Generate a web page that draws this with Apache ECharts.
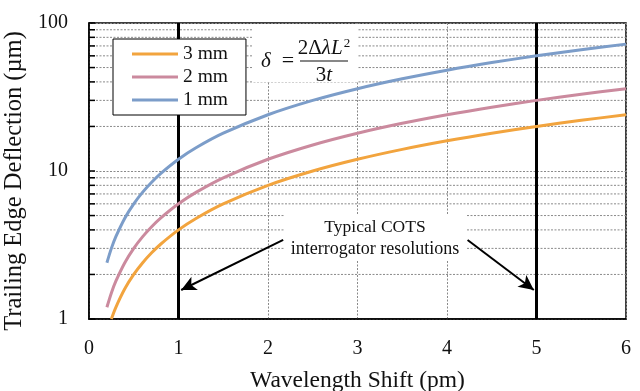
<!DOCTYPE html>
<html><head><meta charset="utf-8">
<script src="https://cdn.jsdelivr.net/npm/echarts@6/dist/echarts.min.js"></script>
<style>html,body{margin:0;padding:0;background:#fff}#c{width:640px;height:391px}</style>
</head><body><div id="c"></div>
<script>
// ---- data ----
const seriesNames = ['3 mm', '2 mm', '1 mm'];
const shift1mm = [0.2, 0.25, 0.3, 0.4, 0.5, 0.6, 0.7, 0.8, 1, 1.2, 1.5, 2, 2.5, 3, 3.5, 4, 4.5, 5, 5.5, 6];
const defl1mm  = [2.4, 3.0, 3.6, 4.8, 6.0, 7.2, 8.4, 9.6, 12, 14.4, 18, 24, 30, 36, 42, 48, 54, 60, 66, 72];
const shift2mm = [0.2, 0.25, 0.3, 0.4, 0.5, 0.6, 0.7, 0.8, 1, 1.2, 1.5, 2, 2.5, 3, 3.5, 4, 4.5, 5, 5.5, 6];
const defl2mm  = [1.2, 1.5, 1.8, 2.4, 3.0, 3.6, 4.2, 4.8, 6, 7.2, 9, 12, 15, 18, 21, 24, 27, 30, 33, 36];
const shift3mm = [0.25, 0.3, 0.4, 0.5, 0.6, 0.7, 0.8, 1, 1.2, 1.5, 2, 2.5, 3, 3.5, 4, 4.5, 5, 5.5, 6];
const defl3mm  = [1.0, 1.2, 1.6, 2.0, 2.4, 2.8, 3.2, 4, 4.8, 6, 8, 10, 12, 14, 16, 18, 20, 22, 24];
const xMin = 0, xMax = 6, xInterval = 1;
const yMin = 1, yMax = 100;
const minorYTicks = [2, 3, 4, 5, 6, 7, 8, 9, 20, 30, 40, 50, 60, 70, 80, 90];
const resolutionMarks = [1, 5];
// arrows: [from, to] in data coordinates
const arrowLeft  = [[2.17, 3.42], [1.03, 1.57]];
const arrowRight = [[4.23, 3.42], [4.97, 1.57]];

const colors = { '3 mm': '#F2A43E', '2 mm': '#CB8A9E', '1 mm': '#7C9DC9' };
const FONT = 'Liberation Serif';

const zip = (xs, ys) => xs.map((x, i) => [x, ys[i]]);
const dataMap = {
  '3 mm': zip(shift3mm, defl3mm),
  '2 mm': zip(shift2mm, defl2mm),
  '1 mm': zip(shift1mm, defl1mm)
};

const chart = echarts.init(document.getElementById('c'), null, { renderer: 'canvas' });

const lineSeries = seriesNames.map(n => ({
  name: n, type: 'line', data: dataMap[n], showSymbol: false, symbol: 'none',
  smooth: 0.3, z: 5,
  lineStyle: { color: colors[n], width: 3 }, itemStyle: { color: colors[n] }
}));

const option = {
  animation: false,
  backgroundColor: '#fff',
  grid: { left: 89, right: 14, top: 23, bottom: 72, show: true, borderColor: '#000', borderWidth: 1.5, backgroundColor: 'transparent', containLabel: false, outerBoundsMode: 'none' },
  legend: {
    data: seriesNames, orient: 'vertical', left: 113, top: 39,
    backgroundColor: '#fff', borderColor: '#000', borderWidth: 1,
    padding: [5, 18, 5, 19], itemGap: 3, itemWidth: 46, itemHeight: 3, icon: 'rect',
    textStyle: { fontFamily: FONT, fontSize: 19.5, color: '#111' }, z: 10
  },
  xAxis: {
    type: 'value', min: xMin, max: xMax, interval: xInterval,
    name: 'Wavelength Shift (pm)', nameLocation: 'middle', nameGap: 50,
    nameTextStyle: { fontFamily: FONT, fontSize: 23.5, color: '#111' },
    axisLine: { lineStyle: { color: '#000', width: 1.5 } },
    axisTick: { show: false },
    axisLabel: { fontFamily: FONT, fontSize: 20, color: '#111', margin: 20 },
    splitLine: { show: true, lineStyle: { color: '#8a8a8a', type: [2, 1.5], width: 1 } }
  },
  yAxis: {
    type: 'log', logBase: 10, min: yMin, max: yMax,
    name: 'Trailing Edge Deflection (µm)', nameLocation: 'middle', nameGap: 51,
    nameTextStyle: { fontFamily: FONT, fontSize: 24.5, color: '#111', padding: [0, 20, 0, 0] },
    axisLine: { lineStyle: { color: '#000', width: 1.5 } },
    axisTick: { show: true, inside: true, length: 6, lineStyle: { color: '#000', width: 1.5 } },
    axisLabel: { fontFamily: FONT, fontSize: 20, color: '#111', margin: 21 },
    splitLine: { show: true, lineStyle: { color: '#8a8a8a', type: [2, 1.5], width: 1 } }
  },
  series: [
    {
      name: 'minor', type: 'custom', z: 1, silent: true,
      data: minorYTicks.map(v => [xMin, v]),
      encode: { x: 0, y: 1 },
      renderItem: function (params, api) {
        const v = api.value(1);
        const p0 = api.coord([xMin, v]);
        const p1 = api.coord([xMax, v]);
        return { type: 'group', children: [
          { type: 'line', shape: { x1: p0[0], y1: p0[1], x2: p1[0], y2: p1[1] }, style: { stroke: '#8a8a8a', lineWidth: 1, lineDash: [2, 1.5] } },
          { type: 'line', shape: { x1: p0[0], y1: p0[1], x2: p0[0] + 6, y2: p0[1] }, style: { stroke: '#000', lineWidth: 1.5 } }
        ]};
      }
    },
    ...lineSeries,
    {
      name: 'marks', type: 'line', data: [], z: 4,
      markLine: {
        silent: true, animation: false, symbol: ['none', 'none'],
        label: { show: false },
        lineStyle: { color: '#000', width: 3, type: 'solid' },
        data: resolutionMarks.map(v => ({ xAxis: v }))
      }
    },
    {
      name: 'arrows', type: 'line', data: [], z: 12,
      markLine: {
        silent: true, animation: false, symbol: ['none', 'arrow'], symbolSize: [11, 15],
        label: { show: false },
        lineStyle: { color: '#000', width: 2, type: 'solid' },
        data: [
          [{ coord: arrowLeft[0] }, { coord: arrowLeft[1] }],
          [{ coord: arrowRight[0] }, { coord: arrowRight[1] }]
        ]
      }
    }
  ],
  graphic: [
    { type: 'rect', z: 20, shape: { x: 284, y: 214, width: 183, height: 47 }, style: { fill: '#fff' } },
    { type: 'text', z: 21, x: 375, y: 227, style: { text: 'Typical COTS', fontFamily: FONT, fontSize: 17.5, fill: '#111', align: 'center', verticalAlign: 'middle' } },
    { type: 'text', z: 21, x: 375, y: 249, style: { text: 'interrogator resolutions', fontFamily: FONT, fontSize: 18, fill: '#111', align: 'center', verticalAlign: 'middle' } },
    { type: 'rect', z: 20, shape: { x: 252, y: 24, width: 106, height: 58 }, style: { fill: '#fff' } },
    { type: 'text', z: 21, x: 266, y: 61, style: { text: 'δ', fontFamily: FONT, fontStyle: 'italic', fontSize: 21, fill: '#111', align: 'center', verticalAlign: 'middle' } },
    { type: 'text', z: 21, x: 288, y: 61, style: { text: '=', fontFamily: FONT, fontSize: 22, fill: '#111', align: 'center', verticalAlign: 'middle' } },
    { type: 'line', z: 21, shape: { x1: 300, y1: 61, x2: 348, y2: 61 }, style: { stroke: '#111', lineWidth: 1.2 } },
    { type: 'text', z: 21, x: 324, y: 48, style: {
        text: '{n|2Δ}{i|λL}{s|2}', align: 'center', verticalAlign: 'middle',
        rich: {
          n: { fontFamily: FONT, fontSize: 21, fill: '#111' },
          i: { fontFamily: FONT, fontSize: 21, fontStyle: 'italic', fill: '#111' },
          s: { fontFamily: FONT, fontSize: 13, fill: '#111', verticalAlign: 'top', padding: [0, 0, 8, 1] }
        } } },
    { type: 'text', z: 21, x: 324, y: 75, style: {
        text: '{n|3}{i|t}', align: 'center', verticalAlign: 'middle',
        rich: {
          n: { fontFamily: FONT, fontSize: 21, fill: '#111' },
          i: { fontFamily: FONT, fontSize: 21, fontStyle: 'italic', fill: '#111' }
        } } }
  ]
};
chart.setOption(option);
</script>
</body></html>
